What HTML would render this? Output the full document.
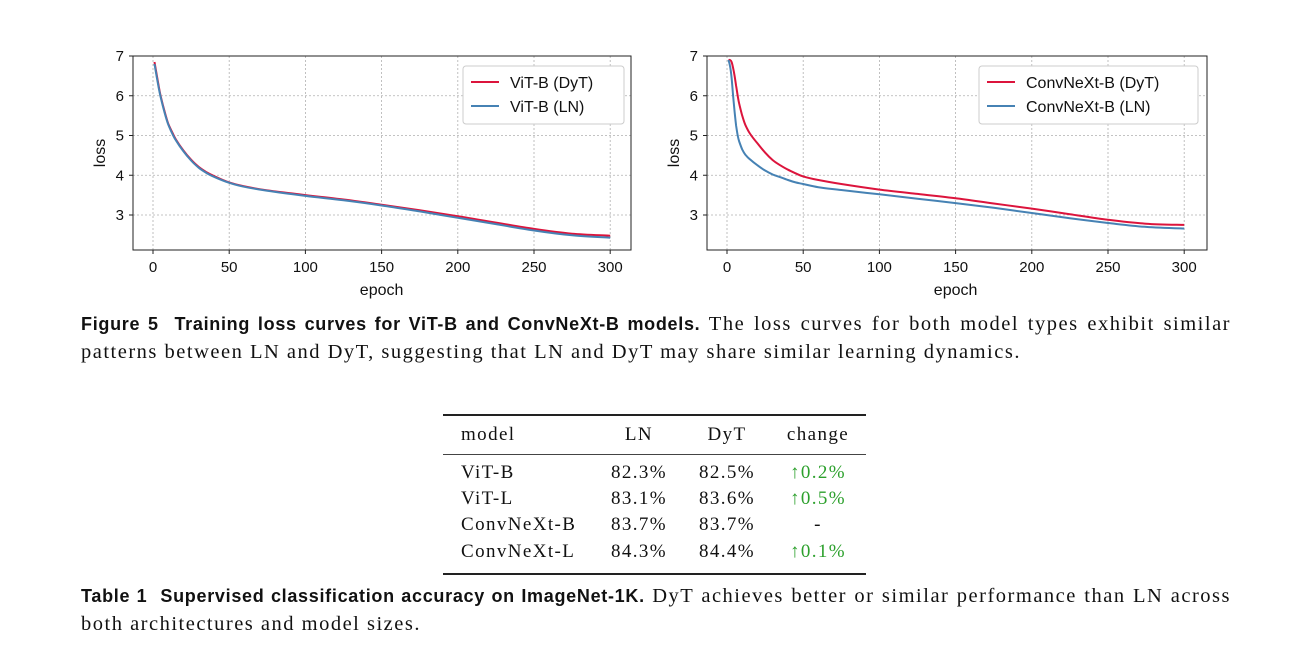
<!DOCTYPE html>
<html><head><meta charset="utf-8"><style>
body{margin:0;background:#fff;width:1301px;height:662px;overflow:hidden;position:relative;font-family:"Liberation Serif",serif}
svg{position:absolute;left:0;top:0}
.cap{position:absolute;left:81px;width:1150px;font-size:20.5px;letter-spacing:1.5px;line-height:28px;color:#111;white-space:nowrap}
.cap .j{text-align:justify;text-align-last:justify}
.cap b{font-family:"Liberation Sans",sans-serif;font-size:18px;letter-spacing:0.7px}
.t{position:absolute;font-size:19px;letter-spacing:1.4px;color:#111}
</style></head><body>
<svg id="chart" width="1301" height="662"></svg>
<div class="cap" style="top:310px"><div class="j"><b>Figure 5&nbsp; Training loss curves for ViT-B and ConvNeXt-B models.</b> The loss curves for both model types exhibit similar</div><div>patterns between LN and DyT, suggesting that LN and DyT may share similar learning dynamics.</div></div>
<div>
<div style="position:absolute;left:443px;top:414px;width:423px;height:2px;background:#222"></div>
<div style="position:absolute;left:443px;top:454px;width:423px;height:1px;background:#444"></div>
<div style="position:absolute;left:443px;top:573px;width:423px;height:2px;background:#222"></div>
<div id="rows"></div>
</div>
<div class="cap" style="top:582px"><div class="j"><b>Table 1&nbsp; Supervised classification accuracy on ImageNet-1K.</b> DyT achieves better or similar performance than LN across</div><div>both architectures and model sizes.</div></div>
<script>
const epochs=[1,3,5,8,10,13,15,20,25,30,35,40,50,60,75,100,125,150,175,200,225,250,275,300];
const vitDyT=[6.85,6.4,6.0,5.55,5.3,5.05,4.9,4.62,4.39,4.21,4.08,3.98,3.82,3.72,3.62,3.5,3.39,3.26,3.12,2.97,2.81,2.65,2.53,2.48];
const vitLN=[6.8,6.35,5.97,5.52,5.28,5.02,4.88,4.6,4.37,4.19,4.06,3.96,3.81,3.71,3.61,3.48,3.37,3.24,3.09,2.93,2.77,2.61,2.49,2.43];
const cnEpochs=[1,2,3,4,5,6,7,8,10,12,15,20,25,30,35,40,45,50,60,75,100,125,150,175,200,225,250,275,300];
const cnDyT=[6.9,6.9,6.85,6.7,6.5,6.25,6.0,5.8,5.5,5.27,5.05,4.8,4.57,4.38,4.25,4.14,4.05,3.97,3.88,3.78,3.64,3.53,3.42,3.29,3.16,3.02,2.88,2.78,2.75];
const cnLN=[6.9,6.75,6.45,6.0,5.6,5.25,5.0,4.85,4.65,4.52,4.4,4.25,4.12,4.02,3.95,3.88,3.82,3.78,3.7,3.63,3.52,3.41,3.3,3.18,3.05,2.92,2.8,2.7,2.66];
const xTicks=[0,50,100,150,200,250,300];
const yTicks=[3,4,5,6,7];
const NS="http://www.w3.org/2000/svg";
const svg=document.getElementById('chart');
function mk(t,a,p){const e=document.createElementNS(NS,t);for(const k in a)e.setAttribute(k,a[k]);(p||svg).appendChild(e);return e;}
function panel(L,R,x0px,name,ex,s1,s2,lab1,lab2,legX,legW){
  const T=56,B=250;
  const sx=v=>x0px+v*(76.2/50), sy=v=>215-(v-3)*39.75;
  const g=mk('g',{});
  
  
  xTicks.forEach(t=>{const l=mk('line',{x1:sx(t),x2:sx(t),y1:T,y2:B,stroke:'#b0b0b0','stroke-dasharray':'2,2','stroke-width':0.8},g);
    mk('line',{x1:sx(t),x2:sx(t),y1:B,y2:B+4,stroke:'#222'},g);
    const tx=mk('text',{x:sx(t),y:B+22,'text-anchor':'middle','font-size':15,'font-family':'Liberation Sans, sans-serif',fill:'#111'},g);tx.textContent=t;});
  yTicks.forEach(t=>{mk('line',{x1:L,x2:R,y1:sy(t),y2:sy(t),stroke:'#b0b0b0','stroke-dasharray':'2,2','stroke-width':0.8},g);
    mk('line',{x1:L-4,x2:L,y1:sy(t),y2:sy(t),stroke:'#222'},g);
    const tx=mk('text',{x:L-9,y:sy(t)+5,'text-anchor':'end','font-size':15,'font-family':'Liberation Sans, sans-serif',fill:'#111'},g);tx.textContent=t;});
  function line(xs,ys,c,nm){
    const P=xs.map((x,i)=>[sx(x),sy(ys[i])]);
    let d='M'+P[0][0].toFixed(1)+','+P[0][1].toFixed(1);
    for(let i=0;i<P.length-1;i++){const p0=P[i-1]||P[i],p1=P[i],p2=P[i+1],p3=P[i+2]||p2;
      const c1=[p1[0]+(p2[0]-p0[0])/6,p1[1]+(p2[1]-p0[1])/6],c2=[p2[0]-(p3[0]-p1[0])/6,p2[1]-(p3[1]-p1[1])/6];
      d+='C'+c1.map(v=>v.toFixed(1)).join(',')+' '+c2.map(v=>v.toFixed(1)).join(',')+' '+p2.map(v=>v.toFixed(1)).join(',');}
    const p=mk('path',{d:d,fill:'none',stroke:c,'stroke-width':2,'stroke-linejoin':'round'},g);}
  line(ex,s1,'#dc143c','series-dyt');line(ex,s2,'#4682b4','series-ln');
  mk('rect',{x:L,y:T,width:R-L,height:B-T,fill:'none',stroke:'#222','stroke-width':1},g);
  const xl=mk('text',{x:(sx(0)+sx(300))/2,y:B+45,'text-anchor':'middle','font-size':16,'font-family':'Liberation Sans, sans-serif',fill:'#111'},g);xl.textContent='epoch';
  const yl=mk('text',{transform:`translate(${L-28},${(T+B)/2}) rotate(-90)`,'text-anchor':'middle','font-size':16,'font-family':'Liberation Sans, sans-serif',fill:'#111'},g);yl.textContent='loss';
  const lg=mk('g',{},g);
  mk('rect',{x:legX,y:66,width:legW,height:58,rx:3,fill:'#fff',stroke:'#ccc'},lg);
  [[lab1,'#dc143c',82],[lab2,'#4682b4',106]].forEach(([lb,c,y])=>{mk('line',{x1:legX+8,x2:legX+36,y1:y,y2:y,stroke:c,'stroke-width':2},lg);
    const t=mk('text',{x:legX+47,y:y+6,'font-size':16,'font-family':'Liberation Sans, sans-serif',fill:'#111'},lg);t.textContent=lb;});
}
panel(133,631,153,'vit-loss-chart',epochs,vitDyT,vitLN,'ViT-B (DyT)','ViT-B (LN)',463,161);
panel(707,1207,727,'convnext-loss-chart',cnEpochs,cnDyT,cnLN,'ConvNeXt-B (DyT)','ConvNeXt-B (LN)',979,219);
const models=['ViT-B','ViT-L','ConvNeXt-B','ConvNeXt-L'];
const ln=['82.3%','83.1%','83.7%','84.3%'];
const dyt=['82.5%','83.6%','83.7%','84.4%'];
const chg=['↑0.2%','↑0.5%','-','↑0.1%'];
const rows=document.getElementById('rows');
function cell(txt,x,y,al,col){const d=document.createElement('div');d.className='t';d.textContent=txt;d.style.top=(y-12)+'px';
  if(al==='c'){d.style.left=(x-60)+'px';d.style.width='120px';d.style.textAlign='center';}else d.style.left=x+'px';
  if(col)d.style.color=col;rows.appendChild(d);return d;}
[['model',461,'l'],['LN',639,'c'],['DyT',727,'c'],['change',818,'c']].forEach(h=>{const d=cell(h[0],h[1],436,h[2]);
  
  });
const ys=[474,500,526,553];
models.forEach((m,i)=>{
  const a=cell(m,461,ys[i],'l');
  const b=cell(ln[i],639,ys[i],'c');
  const c=cell(dyt[i],727,ys[i],'c');
  const e=cell(chg[i],818,ys[i],'c',chg[i]==='-'?'#111':'#2ca02c');
});
</script>
</body></html>
